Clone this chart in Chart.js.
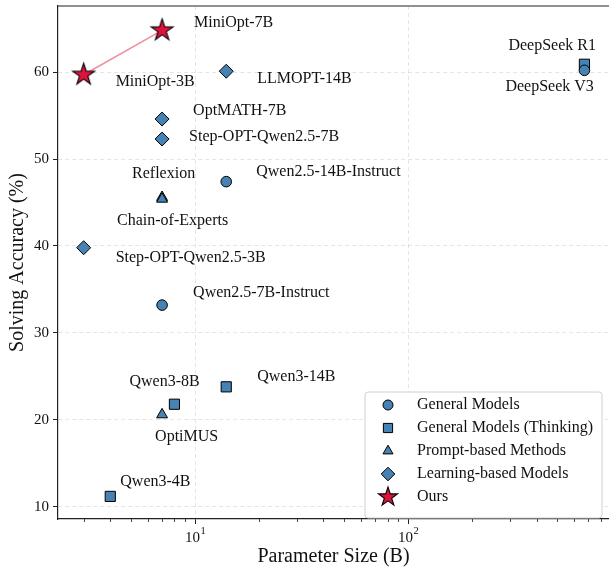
<!DOCTYPE html>
<html>
<head>
<meta charset="utf-8">
<script src="https://cdn.jsdelivr.net/npm/chart.js@4.4.1/dist/chart.umd.min.js"></script>
<style>html,body{margin:0;padding:0;background:#fff}</style>
</head>
<body>
<canvas id="chart" width="609" height="571"></canvas>
<script>
// data (x = parameter size in B, y = solving accuracy %)
const generalNames = ['Qwen2.5-14B-Instruct', 'Qwen2.5-7B-Instruct', 'DeepSeek V3'];
const generalX = [14, 7, 671];
const generalY = [47.4, 33.2, 60.2];

const thinkingNames = ['Qwen3-4B', 'Qwen3-8B', 'Qwen3-14B', 'DeepSeek R1'];
const thinkingX = [4, 8, 14, 671];
const thinkingY = [11.2, 21.8, 23.8, 60.9];

const promptNames = ['Reflexion', 'Chain-of-Experts', 'OptiMUS'];
const promptX = [7, 7, 7];
const promptY = [45.6, 45.4, 20.6];

const learningNames = ['Step-OPT-Qwen2.5-3B', 'Step-OPT-Qwen2.5-7B', 'OptMATH-7B', 'LLMOPT-14B'];
const learningX = [3, 7, 7, 14];
const learningY = [39.8, 52.3, 54.6, 60.1];

const oursNames = ['MiniOpt-3B', 'MiniOpt-7B'];
const oursX = [3, 7];
const oursY = [59.7, 64.8];

const yTicks = [10, 20, 30, 40, 50, 60];
const xTicks = [10, 100];
const xTickExp = ['1', '2'];
const xMinor = [3, 4, 5, 6, 7, 8, 9, 20, 30, 40, 50, 60, 70, 80, 90, 200, 300, 400, 500, 600, 700, 800];

// text offsets (px) from each marker
const labelOffsets = {
  'MiniOpt-7B': [32, -8], 'MiniOpt-3B': [32, 7],
  'LLMOPT-14B': [31, 8], 'OptMATH-7B': [31, -8],
  'Step-OPT-Qwen2.5-7B': [27, -2], 'Reflexion': [-30, -23],
  'Chain-of-Experts': [-45, 22], 'Qwen2.5-14B-Instruct': [30, -10],
  'Step-OPT-Qwen2.5-3B': [32, 10], 'Qwen2.5-7B-Instruct': [31, -12],
  'Qwen3-8B': [-45, -22], 'Qwen3-14B': [31, -10],
  'OptiMUS': [-7, 22], 'Qwen3-4B': [10, -15],
  'DeepSeek R1': [-76, -18], 'DeepSeek V3': [-79, 16]
};

const serif = '"Liberation Serif", "Times New Roman", serif';
const blue = '#4682B4';

function makeStar(R) {
  const s = Math.ceil(R * 2 + 4);
  const cv = document.createElement('canvas');
  cv.width = s; cv.height = s;
  const g = cv.getContext('2d');
  const c = s / 2, r = R * 0.382;
  g.beginPath();
  for (let i = 0; i < 10; i++) {
    const a = -Math.PI / 2 + i * Math.PI / 5;
    const rr = i % 2 ? r : R;
    g.lineTo(c + rr * Math.cos(a), c + rr * Math.sin(a));
  }
  g.closePath();
  g.fillStyle = '#DC143C';
  g.fill();
  g.lineWidth = 1.1;
  g.strokeStyle = '#000';
  g.stroke();
  return cv;
}
const starBig = makeStar(11.5);
const starSmall = makeStar(10);

function pts(xs, ys) {
  return xs.map((x, i) => ({x: x, y: ys[i]}));
}

const extras = {
  id: 'extras',
  afterDatasetsDraw(chart) {
    const ctx = chart.ctx;
    const area = chart.chartArea;
    const xs = chart.scales.x;
    ctx.save();
    // top spine
    ctx.strokeStyle = '#222';
    ctx.lineWidth = 1.2;
    ctx.beginPath();
    ctx.moveTo(area.left, area.top);
    ctx.lineTo(area.right, area.top);
    ctx.stroke();
    // minor ticks on the log axis
    ctx.lineWidth = 0.8;
    xMinor.forEach(v => {
      if (v < xs.min || v > xs.max) return;
      const px = Math.round(xs.getPixelForValue(v)) + 0.5;
      ctx.beginPath();
      ctx.moveTo(px, area.bottom);
      ctx.lineTo(px, area.bottom + 3);
      ctx.stroke();
    });
    // x tick labels as 10^n
    ctx.fillStyle = '#111';
    ctx.textBaseline = 'alphabetic';
    ctx.textAlign = 'left';
    xTicks.forEach((v, i) => {
      const px = xs.getPixelForValue(v);
      ctx.font = '15px ' + serif;
      const w1 = ctx.measureText('10').width;
      ctx.font = '10.5px ' + serif;
      const w2 = ctx.measureText(xTickExp[i]).width;
      const x0 = px - (w1 + w2) / 2;
      ctx.font = '15px ' + serif;
      ctx.fillText('10', x0, area.bottom + 23);
      ctx.font = '10.5px ' + serif;
      ctx.fillText(xTickExp[i], x0 + w1 + 0.5, area.bottom + 15);
    });
    // point labels
    ctx.font = '16px ' + serif;
    ctx.textBaseline = 'middle';
    chart.data.datasets.forEach((ds, i) => {
      const meta = chart.getDatasetMeta(i);
      ds.names.forEach((n, j) => {
        const el = meta.data[j];
        const o = labelOffsets[n];
        ctx.fillText(n, el.x + o[0], el.y + o[1]);
      });
    });
    // legend box
    const bx = 365, by = 392, bw = 237, bh = 126;
    ctx.beginPath();
    ctx.roundRect(bx, by, bw, bh, 3);
    ctx.fillStyle = 'rgba(255,255,255,0.85)';
    ctx.fill();
    ctx.strokeStyle = '#d0d0d0';
    ctx.lineWidth = 1;
    ctx.stroke();
    chart.data.datasets.forEach((ds, i) => {
      const cy = 405 + i * 23;
      const style = ds.legendStyle || ds.pointStyle;
      ctx.fillStyle = ds.pointBackgroundColor;
      ctx.strokeStyle = '#000';
      ctx.lineWidth = 1;
      Chart.helpers.drawPoint(ctx, {pointStyle: style, radius: ds.legendRadius, rotation: 0, borderWidth: 1}, 388, cy);
      ctx.fillStyle = '#111';
      ctx.fillText(ds.label, 417, cy);
    });
    ctx.restore();
  }
};

new Chart(document.getElementById('chart'), {
  type: 'scatter',
  data: {
    datasets: [
      {
        label: 'General Models', names: generalNames, data: pts(generalX, generalY),
        pointStyle: 'circle', pointRadius: 5.3, legendRadius: 5,
        pointBackgroundColor: blue, pointBorderColor: '#000', pointBorderWidth: 1
      },
      {
        label: 'General Models (Thinking)', names: thinkingNames, data: pts(thinkingX, thinkingY),
        pointStyle: 'rect', pointRadius: 7.2, legendRadius: 6.5,
        pointBackgroundColor: blue, pointBorderColor: '#000', pointBorderWidth: 1
      },
      {
        label: 'Prompt-based Methods', names: promptNames, data: pts(promptX, promptY),
        pointStyle: 'triangle', pointRadius: 6.3, legendRadius: 5.8,
        pointBackgroundColor: blue, pointBorderColor: '#000', pointBorderWidth: 1
      },
      {
        label: 'Learning-based Models', names: learningNames, data: pts(learningX, learningY),
        pointStyle: 'rectRot', pointRadius: 7, legendRadius: 6.8,
        pointBackgroundColor: blue, pointBorderColor: '#000', pointBorderWidth: 1
      },
      {
        label: 'Ours', names: oursNames, data: pts(oursX, oursY),
        pointStyle: starBig, legendStyle: starSmall, legendRadius: 10,
        pointBackgroundColor: '#DC143C', pointBorderColor: '#000',
        showLine: true, borderColor: '#F0909E', borderWidth: 1.6
      }
    ]
  },
  options: {
    responsive: false,
    animation: false,
    devicePixelRatio: 1,
    events: [],
    layout: {autoPadding: false, padding: {top: 6, right: 0, left: 0, bottom: 0}},
    plugins: {legend: {display: false}, tooltip: {enabled: false}},
    scales: {
      x: {
        type: 'logarithmic',
        min: 2.274,
        max: 875,
        afterBuildTicks: s => { s.ticks = xTicks.map(v => ({value: v, major: true})); },
        afterFit: s => { s.height = 52; s.paddingLeft = 0; s.paddingRight = 0; },
        ticks: {display: false, autoSkip: false, maxRotation: 0},
        grid: {color: 'rgba(0,0,0,0.13)', lineWidth: 0.8, tickLength: 5, tickColor: '#222', tickWidth: 1, tickBorderDash: []},
        border: {display: true, color: '#222', width: 1.2, dash: [4, 3]},
        title: {display: true, text: 'Parameter Size (B)', color: '#111', font: {family: serif, size: 20}, padding: {top: 0, bottom: 2}}
      },
      y: {
        min: 8.6,
        max: 67.6,
        afterBuildTicks: s => { s.ticks = yTicks.map(v => ({value: v})); },
        afterFit: s => { s.width = 58; s.paddingTop = 0; s.paddingBottom = 0; },
        ticks: {padding: 4, color: '#111', font: {family: serif, size: 15}},
        grid: {color: 'rgba(0,0,0,0.13)', lineWidth: 0.8, tickLength: 5, tickColor: '#222', tickWidth: 1, tickBorderDash: []},
        border: {display: true, color: '#222', width: 1.2, dash: [4, 3]},
        title: {display: true, text: 'Solving Accuracy (%)', color: '#111', font: {family: serif, size: 20}, padding: {top: 6, bottom: 0}}
      }
    }
  },
  plugins: [extras]
});
</script>
</body>
</html>
